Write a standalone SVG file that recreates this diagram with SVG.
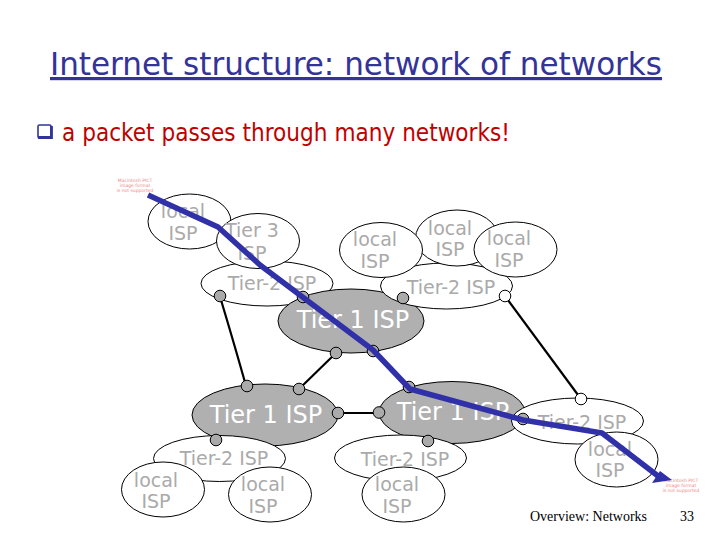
<svg xmlns="http://www.w3.org/2000/svg" width="720" height="540" viewBox="0 0 720 540">
<style>
text{font-family:"DejaVu Sans","Liberation Sans",sans-serif}
.w{fill:#fff;stroke:#000;stroke-width:1}
.g{fill:#b0b0b0;stroke:#000;stroke-width:1}
.l{fill:#aaa;font-size:19px;text-anchor:middle}
.t{fill:#fff;font-size:24px;text-anchor:middle}
.p{fill:#e88;font-size:4.500px;text-anchor:middle}
.c{fill:none;stroke:#000;stroke-width:2.200}
.d{fill:#aaa;stroke:#000;stroke-width:1}
.o{fill:#fff;stroke:#000;stroke-width:1}
.b{fill:none;stroke:#3030a8;stroke-width:5.500;stroke-linejoin:round}
</style>
<rect width="720" height="540" fill="#fff"/>
<text x="50" y="75" font-size="32" fill="#333399" text-decoration="underline" textLength="612" lengthAdjust="spacingAndGlyphs">Internet structure: network of networks</text>
<text x="62" y="141" font-size="25" fill="#c00000" textLength="448" lengthAdjust="spacingAndGlyphs">a packet passes through many networks!</text>
<rect x="38" y="125" width="13" height="13" rx="1.500" fill="none" stroke="#333399" stroke-width="1.600"/>
<path d="M38 137.500H51.500V126" fill="none" stroke="#333399" stroke-width="2.800"/>
<g id="pict1"><text class="p" x="135" y="182">Macintosh PICT</text><text class="p" x="135" y="187">image format</text><text class="p" x="135" y="192">is not supported</text></g>
<g id="pict2"><text class="p" x="681" y="482">Macintosh PICT</text><text class="p" x="681" y="487">image format</text><text class="p" x="681" y="492">is not supported</text></g>
<g id="local1"><ellipse class="w" cx="189.500" cy="221.500" rx="41.500" ry="27.500"/><text class="l" x="183" y="218">local</text><text class="l" x="183" y="240">ISP</text></g>
<g id="tier2a"><ellipse class="w" cx="267" cy="283.500" rx="66" ry="22.500"/><text class="l" x="272" y="290">Tier-2 ISP</text></g>
<g id="tier3"><ellipse class="w" cx="258" cy="241" rx="41.500" ry="27.500"/><text class="l" x="252" y="237">Tier 3</text><text class="l" x="252" y="260">ISP</text></g>
<g id="tier1a"><ellipse class="g" cx="351" cy="321" rx="73" ry="32"/><text class="t" x="353" y="328">Tier 1 ISP</text></g>
<g id="tier2b"><ellipse class="w" cx="446.500" cy="286" rx="66" ry="23"/><text class="l" x="451" y="294">Tier-2 ISP</text></g>
<g id="local2"><ellipse class="w" cx="457" cy="238" rx="41.500" ry="28"/><text class="l" x="450" y="235">local</text><text class="l" x="450" y="256">ISP</text></g>
<g id="local3"><ellipse class="w" cx="381" cy="250" rx="41.500" ry="27.500"/><text class="l" x="375" y="246">local</text><text class="l" x="375" y="268">ISP</text></g>
<g id="local4"><ellipse class="w" cx="515.500" cy="249.500" rx="41.500" ry="27.500"/><text class="l" x="509" y="245">local</text><text class="l" x="509" y="267">ISP</text></g>
<g id="tier1b"><ellipse class="g" cx="265" cy="415" rx="73" ry="31"/><text class="t" x="266" y="423">Tier 1 ISP</text></g>
<g id="tier1c"><ellipse class="g" cx="452" cy="412.500" rx="73" ry="31"/><text class="t" x="453" y="420">Tier 1 ISP</text></g>
<g id="tier2c"><ellipse class="w" cx="219.500" cy="458.500" rx="66" ry="23"/><text class="l" x="224" y="465">Tier-2 ISP</text></g>
<g id="tier2d"><ellipse class="w" cx="400.500" cy="458" rx="66" ry="23"/><text class="l" x="405" y="466">Tier-2 ISP</text></g>
<g id="tier2e"><ellipse class="w" cx="577.500" cy="421" rx="66" ry="23"/><text class="l" x="582" y="429">Tier-2 ISP</text></g>
<g id="local5"><ellipse class="w" cx="163" cy="489.500" rx="41.500" ry="27.500"/><text class="l" x="156" y="487">local</text><text class="l" x="156" y="508">ISP</text></g>
<g id="local6"><ellipse class="w" cx="270" cy="494.500" rx="41.500" ry="27.500"/><text class="l" x="263" y="491">local</text><text class="l" x="263" y="513">ISP</text></g>
<g id="local7"><ellipse class="w" cx="403.500" cy="494.500" rx="41.500" ry="27.500"/><text class="l" x="397" y="491">local</text><text class="l" x="397" y="513">ISP</text></g>
<g id="local8"><ellipse class="w" cx="616.500" cy="459.500" rx="41.500" ry="27.500"/><text class="l" x="610" y="456">local</text><text class="l" x="610" y="477">ISP</text></g>
<g id="connectors">
<path class="c" d="M221 300Q236 350 246 386"/>
<path class="c" d="M336 353L299 389"/>
<path class="c" d="M505 296L581 399"/>
<path class="c" d="M338 413H379"/>
<circle class="d" cx="220" cy="296" r="5.800"/>
<circle class="d" cx="303" cy="297" r="5.800"/>
<circle class="d" cx="403" cy="298" r="5.800"/>
<circle class="o" cx="505" cy="296" r="5.800"/>
<circle class="d" cx="336" cy="353" r="5.800"/>
<circle class="d" cx="373" cy="351" r="5.800"/>
<circle class="d" cx="299" cy="389" r="5.800"/>
<circle class="d" cx="247" cy="386" r="5.800"/>
<circle class="d" cx="409" cy="387" r="5.800"/>
<circle class="d" cx="338" cy="413" r="5.800"/>
<circle class="d" cx="379" cy="412.500" r="5.800"/>
<circle class="d" cx="216" cy="440" r="5.800"/>
<circle class="d" cx="428" cy="441" r="5.800"/>
<circle class="d" cx="523" cy="419" r="5.800"/>
<circle class="o" cx="581" cy="399" r="5.800"/>
<path class="b" d="M148 195L218 227L260 265L373 350L410 389L523 420L602 433L658 476"/>
<path fill="#3030a8" d="M660 471L672 480L652 483Z"/>
</g>
<text x="530" y="521" font-size="14" fill="#000" style="font-family:'Liberation Serif',serif" textLength="117" lengthAdjust="spacingAndGlyphs">Overview: Networks</text>
<text x="680" y="521" font-size="14" fill="#000" style="font-family:'Liberation Serif',serif">33</text>
</svg>
